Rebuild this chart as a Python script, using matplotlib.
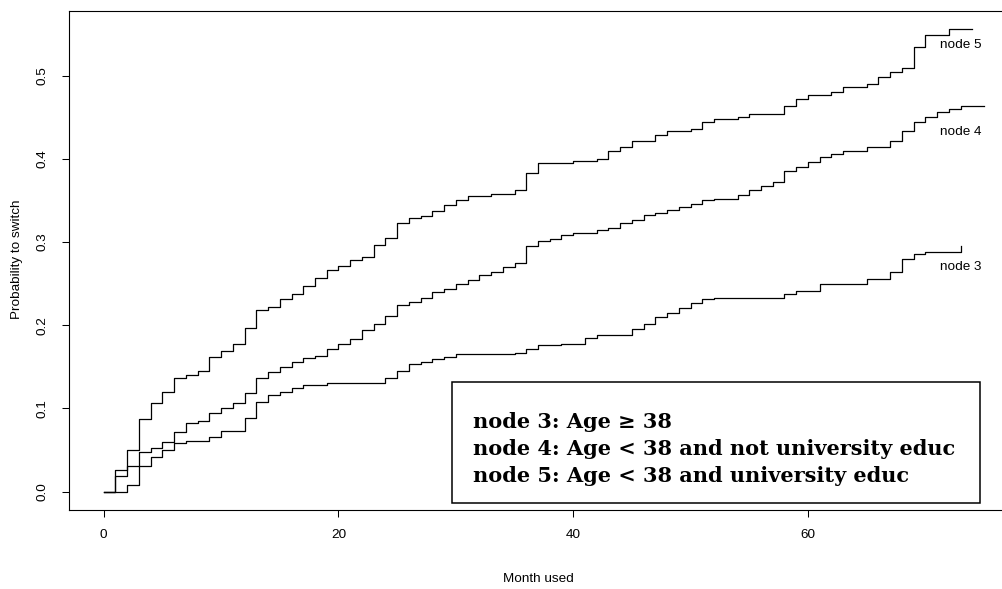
import numpy as np
import matplotlib
matplotlib.use("Agg")
import matplotlib.pyplot as plt
from matplotlib.patches import Rectangle

# cumulative probability to switch, one value per month (step function)
node5 = [0, .026, .050, .087, .107, .120, .136, .140, .145, .162, .169, .178, .197,
         .218, .222, .231, .238, .247, .257, .266, .271, .278, .282, .297, .305,
         .323, .329, .331, .337, .345, .350, .355, .355, .358, .358, .363, .383,
         .395, .395, .395, .398, .398, .400, .410, .414, .422, .422, .429, .434,
         .434, .436, .444, .448, .448, .450, .454, .454, .454, .464, .472, .477,
         .477, .481, .486, .486, .490, .498, .505, .509, .534, .549, .549, .556,
         .556, .556]
node4 = [0, 0, .0075, .047, .052, .060, .071, .082, .085, .094, .100, .107, .119,
         .136, .144, .150, .156, .160, .163, .171, .177, .184, .194, .202, .211,
         .224, .228, .233, .240, .244, .249, .254, .260, .264, .270, .275, .295,
         .301, .304, .308, .311, .311, .314, .317, .323, .326, .332, .335, .339,
         .342, .346, .350, .352, .352, .357, .362, .367, .372, .385, .390, .396,
         .402, .406, .410, .410, .414, .414, .421, .433, .444, .450, .456, .460,
         .463, .463, .463]
node3 = [0, .019, .031, .031, .042, .050, .058, .061, .061, .066, .073, .073, .089,
         .108, .116, .120, .124, .128, .128, .130, .130, .130, .130, .130, .137,
         .145, .153, .156, .159, .162, .165, .165, .165, .165, .165, .167, .171,
         .176, .176, .178, .178, .185, .188, .188, .188, .195, .201, .210, .215,
         .221, .227, .232, .233, .233, .233, .233, .233, .233, .237, .241, .241,
         .250, .250, .250, .250, .255, .255, .264, .280, .286, .288, .288, .288,
         .295]

curves = [("node 5", node5, 0.537), ("node 4", node4, 0.432), ("node 3", node3, 0.270)]

legend_lines = ["node 3: Age \u2265 38",
                "node 4: Age < 38 and not university educ",
                "node 5: Age < 38 and university educ"]

plt.rcParams["font.family"] = ["Liberation Sans", "DejaVu Sans"]

fig = plt.figure(figsize=(10.02, 5.89), dpi=100)
W, H = 1002, 589
ax = fig.add_axes([69 / W, 1 - 510 / H, (1007 - 69) / W, (510 - 11) / H])

for name, vals, ylab in curves:
    x = np.arange(len(vals))
    ax.step(x, vals, where="post", color="black", lw=0.9)
    ax.text(73, ylab, name, ha="center", va="center", fontsize=9.7)

ax.set_xlim(-2.96, 76.96)
ax.set_ylim(-0.0222, 0.5778)
ax.set_xticks([0, 20, 40, 60])
ax.set_yticks([0, 0.1, 0.2, 0.3, 0.4, 0.5])
ax.set_yticklabels(["0.0", "0.1", "0.2", "0.3", "0.4", "0.5"], rotation=90, va="center")
ax.tick_params(direction="out", length=5, width=0.75, labelsize=9.7)
ax.tick_params(axis="x", pad=8.5)
ax.tick_params(axis="y", pad=10)
for s in ax.spines.values():
    s.set_linewidth(0.8)

fig.text(538 / W, 1 - 579 / H, "Month used", ha="center", va="center", fontsize=9.7)
fig.text(17 / W, 1 - 259 / H, "Probability to switch", ha="center", va="center",
         rotation=90, fontsize=9.7)

# legend box drawn by hand
ax.add_patch(Rectangle((29.7, -0.0139), 74.7 - 29.7, 0.1315 + 0.0139,
                       fill=False, lw=1.1, ec="black"))
for i, line in enumerate(legend_lines):
    ax.text(31.5, 0.0840 - i * 0.0328, line, va="center", ha="left",
            family=["DejaVu Serif"], weight="bold", fontsize=15)

fig.savefig("out.png", dpi=100)
